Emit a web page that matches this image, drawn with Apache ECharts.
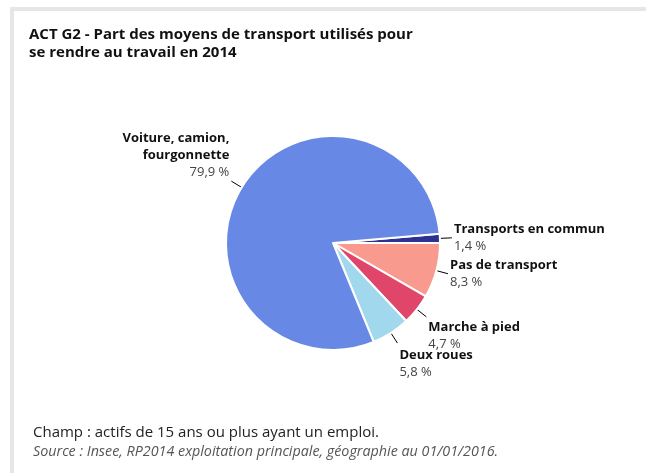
<!DOCTYPE html>
<html>
<head>
<meta charset="utf-8">
<script src="https://cdn.jsdelivr.net/npm/echarts@6/dist/echarts.min.js"></script>
<style>
html,body{margin:0;padding:0;background:#fff;}
#c{width:646px;height:473px;}
</style>
</head>
<body>
<div id="c"></div>
<script>
const categories = ['Transports en commun', 'Pas de transport', 'Marche à pied', 'Deux roues', 'Voiture, camion,\nfourgonnette'];
const values = [1.4, 8.3, 4.7, 5.8, 79.9];
const valueLabels = ['1,4 %', '8,3 %', '4,7 %', '5,8 %', '79,9 %'];
const colors = ['#2e3192', '#f89b8e', '#e0466a', '#a2d8ee', '#6888e5'];
const vAligns = ['middle', 'middle', 'top', 'top', 'bottom'];
const labelDy = [0, 0, 2, 4, 0];

const titleText = 'ACT G2 - Part des moyens de transport utilisés pour\nse rendre au travail en 2014';
const champText = 'Champ : actifs de 15 ans ou plus ayant un emploi.';
const sourceText = 'Source : Insee, RP2014 exploitation principale, géographie au 01/01/2016.';

const FONT = '"Open Sans", "Noto Sans", sans-serif';
const chart = echarts.init(document.getElementById('c'), null, {renderer: 'canvas'});

const data = categories.map((c, i) => ({
  name: c,
  value: values[i],
  itemStyle: {color: colors[i]},
  label: {
    formatter: () => c.split('\n').map(s => '{n|' + s + '}').join('\n') + '\n{v|' + valueLabels[i] + '}'
  }
}));

chart.setOption({
  animation: false,
  backgroundColor: '#ffffff',
  graphic: [
    {type: 'rect', shape: {x: 10, y: 7, width: 636, height: 4}, style: {fill: '#e6e6e6'}},
    {type: 'rect', shape: {x: 10, y: 7, width: 4, height: 466}, style: {fill: '#e6e6e6'}},
    {type: 'text', left: 29, top: 26, style: {text: titleText, font: 'bold 15px ' + FONT, fill: '#111', lineHeight: 18}},
    {type: 'text', left: 33, top: 425, style: {text: champText, font: '15px ' + FONT, fill: '#222'}},
    {type: 'text', left: 33, top: 445, style: {text: sourceText, font: 'italic 14.3px ' + FONT, fill: '#555'}}
  ],
  series: [{
    type: 'pie',
    center: [333, 243],
    radius: [0, 107],
    startAngle: 5,
    clockwise: true,
    avoidLabelOverlap: false,
    itemStyle: {borderColor: '#fff', borderWidth: 2},
    label: {
      show: true,
      position: 'outside',
      distanceToLabelLine: 2,
      fontFamily: FONT,
      rich: {
        n: {fontFamily: FONT, fontWeight: 'bold', fontSize: 13, color: '#111', lineHeight: 17},
        v: {fontFamily: FONT, fontSize: 13, color: '#444', lineHeight: 17}
      }
    },
    labelLine: {show: true, length: 12, length2: 0, lineStyle: {color: '#000', width: 1}},
    labelLayout: (p) => ({labelLinePoints: p.labelLinePoints, verticalAlign: vAligns[p.dataIndex], dy: labelDy[p.dataIndex]}),
    emphasis: {disabled: true},
    data: data
  }]
});
</script>
</body>
</html>
